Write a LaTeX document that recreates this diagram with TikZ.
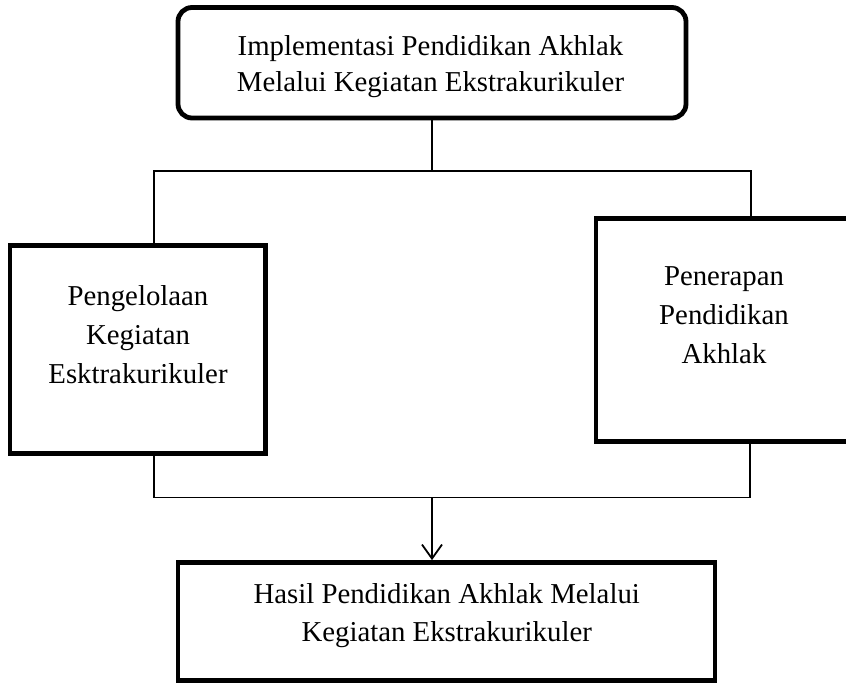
\documentclass[tikz,border=0pt]{standalone}
\usepackage{fontspec}
\setmainfont{Liberation Serif}
\usetikzlibrary{arrows.meta}
\tikzset{
  boxshape/.style={draw=black, line width=4.8pt, rectangle, inner sep=0pt},
  roundshape/.style={boxshape, rounded corners=14pt},
  boxtext/.style={align=center, inner sep=0pt, font=\fontsize{28.8}{#1}\selectfont},
  conn/.style={draw=black, line width=1.8pt},
  arrowtip/.style={-{Straight Barb[length=14pt,width=20pt,line width=1.8pt]}}
}
\begin{document}
\begin{tikzpicture}[x=1pt,y=-1pt]
\useasboundingbox (0,0) rectangle (846,683);
\clip (0,0) rectangle (846,683);
% boxes
\node[roundshape, minimum width=508pt, minimum height=110.5pt] (impl) at (432,62.75) {};
\node[boxshape, minimum width=255.5pt, minimum height=207.5pt] (pengelolaan) at (137.75,349.55) {};
\node[boxshape, minimum width=256pt, minimum height=223.5pt] (penerapan) at (724,330) {};
\node[boxshape, minimum width=537pt, minimum height=118pt] (hasil) at (446.5,621.5) {};
% texts
\node[boxtext=36pt] (impl-text) at (430.5,66.3) {Implementasi Pendidikan Akhlak\\Melalui Kegiatan Ekstrakurikuler};
\node[boxtext=39pt] (pengelolaan-text) at (138,335.1) {Pengelolaan\\Kegiatan\\Esktrakurikuler};
\node[boxtext=39pt] (penerapan-text) at (724,315.5) {Penerapan\\Pendidikan\\Akhlak};
\node[boxtext=38pt] (hasil-text) at (446.7,615.3) {Hasil Pendidikan Akhlak Melalui\\Kegiatan Ekstrakurikuler};
% junctions
\coordinate (jt) at (432,171);
\coordinate (jtl) at (154,171);
\coordinate (jtr) at (751,171);
\coordinate (jb) at (432,497.5);
\coordinate (jbl) at (154,497.5);
\coordinate (jbr) at (750,497.5);
% connectors
\draw[conn] (impl.south) -- (jt);
\draw[conn] (jtl |- pengelolaan.north) -- (jtl) -- (jtr) -- (jtr |- penerapan.north);
\draw[conn] (jbl |- pengelolaan.south) -- (jbl) -- (jbr) -- (jbr |- penerapan.south);
\draw[conn, arrowtip] (jb) -- (jb |- hasil.north);
\end{tikzpicture}
\end{document}
